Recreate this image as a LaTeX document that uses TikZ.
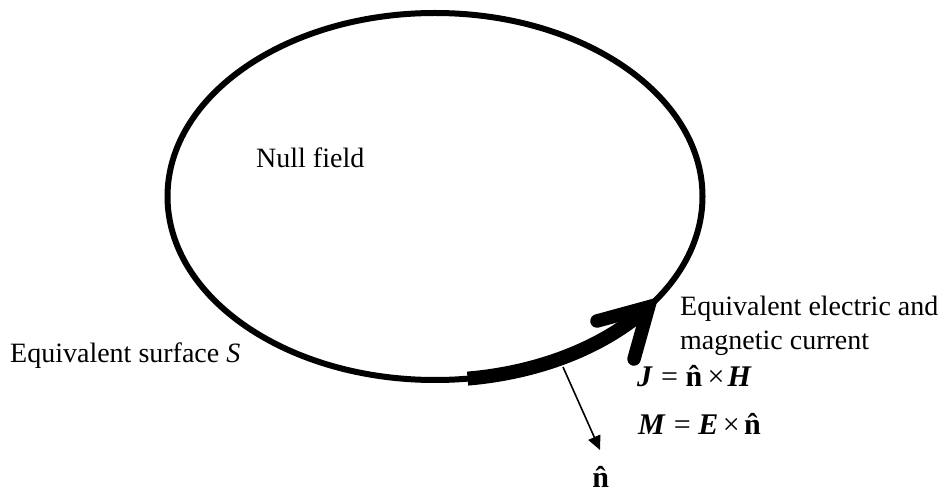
\documentclass[tikz,border=0pt]{standalone}
\usepackage{fontspec}
\setmainfont{Liberation Serif}
\usetikzlibrary{arrows.meta}
\tikzset{
  surf/.style={line width=6pt},
  current/.style={line width=14pt},
  barbs/.style={line width=13.5pt, line cap=round, line join=miter},
  normalarrow/.style={line width=1.6pt, -{Triangle[length=14pt,width=13pt]}},
  lbl/.style={inner sep=0pt, font=\fontsize{28}{34}\selectfont},
  eqn/.style={inner sep=0pt, font=\fontsize{30}{36}\selectfont},
}
\begin{document}
\begin{tikzpicture}[x=1pt,y=1pt]
\useasboundingbox (0,0) rectangle (942,493);
\coordinate (C) at (435,296.5);
\draw[surf] (C) ellipse [x radius=267.5, y radius=183.5];
% equivalent current arrow
\coordinate (arcstart) at (467.6,114.4);
\coordinate (vtx) at (648.6,186.1);
\coordinate (b1) at (597,172);
\coordinate (b2) at (634,134);
\draw[current] (arcstart) arc[start angle=-83, end angle=-37, x radius=267.5, y radius=183.5];
\draw[barbs] (b1) -- (vtx) -- (b2);
% normal
\coordinate (nstart) at (563,126);
\node[eqn, anchor=base] (nhat) at (603,6) {\textbf{\^n}};
\coordinate (ntip) at (600,43);
\draw[normalarrow] (nstart) -- (ntip);
% labels
\node[lbl, anchor=base west] (null) at (256,325) {Null field};
\node[lbl, anchor=base west] (surf) at (10,131) {Equivalent surface \textit{S}};
\node[lbl, anchor=base west] (eq1) at (680,178) {Equivalent electric and};
\node[lbl, anchor=base west] (eq2) at (680,143) {magnetic current};
\node[eqn, anchor=base west] (J) at (637,107) {{\bfseries\itshape J}\hspace{0.3em}=\hspace{0.25em}\textbf{\^n}\hspace{0.02em}×\hspace{0.1em}{\bfseries\itshape H}};
\node[eqn, anchor=base west] (M) at (638,59) {{\bfseries\itshape M}\hspace{0.3em}=\hspace{0.25em}{\bfseries\itshape E}\hspace{0.15em}×\hspace{0.15em}\textbf{\^n}};
\end{tikzpicture}
\end{document}
